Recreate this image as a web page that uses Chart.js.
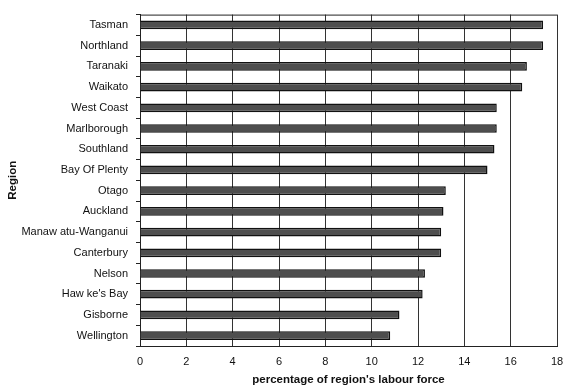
<!DOCTYPE html>
<html>
<head>
<meta charset="utf-8">
<script src="https://cdn.jsdelivr.net/npm/chart.js@4.4.0/dist/chart.umd.min.js"></script>
<style>
  html, body { margin: 0; padding: 0; background: #fff; }
  #wrap { width: 565px; height: 387px; }
</style>
</head>
<body>
<div id="wrap"><canvas id="chart"></canvas></div>
<script>
const regions = [
  "Tasman", "Northland", "Taranaki", "Waikato", "West Coast", "Marlborough",
  "Southland", "Bay Of Plenty", "Otago", "Auckland", "Manaw atu-Wanganui",
  "Canterbury", "Nelson", "Haw ke's Bay", "Gisborne", "Wellington"
];
const percentages = [
  17.4, 17.4, 16.7, 16.5, 15.4, 15.4,
  15.3, 15.0, 13.2, 13.1, 13.0,
  13.0, 12.3, 12.2, 11.2, 10.8
];
const xTicks = [0, 2, 4, 6, 8, 10, 12, 14, 16, 18];

const fontFamily = "'Liberation Sans', Arial, sans-serif";

// top edge of the plot box
const boxTop = {
  id: "boxTop",
  afterDraw(chart) {
    const a = chart.chartArea;
    const c = chart.ctx;
    c.save();
    c.strokeStyle = "#222";
    c.lineWidth = 1;
    c.beginPath();
    c.moveTo(a.left, a.top + 0.5);
    c.lineTo(a.right, a.top + 0.5);
    c.stroke();
    c.restore();
  }
};

const ctx = document.getElementById("chart").getContext("2d");
new Chart(ctx, {
  type: "bar",
  data: {
    labels: regions,
    datasets: [{
      data: percentages,
      backgroundColor: "#4e4e4e",
      borderColor: "#111",
      borderWidth: 1.5,
      categoryPercentage: 1,
      barPercentage: 0.42
    }]
  },
  options: {
    indexAxis: "y",
    responsive: true,
    maintainAspectRatio: false,
    animation: false,
    layout: { padding: { top: 10, right: 0, left: 0, bottom: 0 } },
    plugins: {
      legend: { display: false },
      tooltip: { enabled: false }
    },
    scales: {
      x: {
        min: 0,
        max: 18,
        afterBuildTicks: (scale) => { scale.ticks = xTicks.map(v => ({ value: v })); },
        afterFit: (scale) => {
          scale.height = 41;
          scale.paddingLeft = 0;
          scale.paddingRight = 8;
        },
        grid: { color: "#333", lineWidth: 1, drawTicks: false },
        border: { color: "#222", width: 1 },
        ticks: {
          color: "#111",
          padding: 9,
          font: { family: fontFamily, size: 11 }
        },
        title: {
          display: true,
          text: "percentage of region's labour force",
          color: "#111",
          padding: { top: 4, bottom: 0 },
          font: { family: fontFamily, size: 11.5, weight: "bold" }
        }
      },
      y: {
        afterFit: (scale) => { scale.width = 140; },
        grid: {
          offset: true,
          drawOnChartArea: false,
          drawTicks: true,
          tickLength: 4,
          color: "#222"
        },
        border: { color: "#222", width: 1 },
        ticks: {
          color: "#111",
          padding: 8,
          autoSkip: false,
          font: { family: fontFamily, size: 11 }
        },
        title: {
          display: true,
          text: "Region",
          color: "#111",
          padding: { top: 6, bottom: 0 },
          font: { family: fontFamily, size: 11.5, weight: "bold" }
        }
      }
    }
  },
  plugins: [boxTop]
});
</script>
</body>
</html>
